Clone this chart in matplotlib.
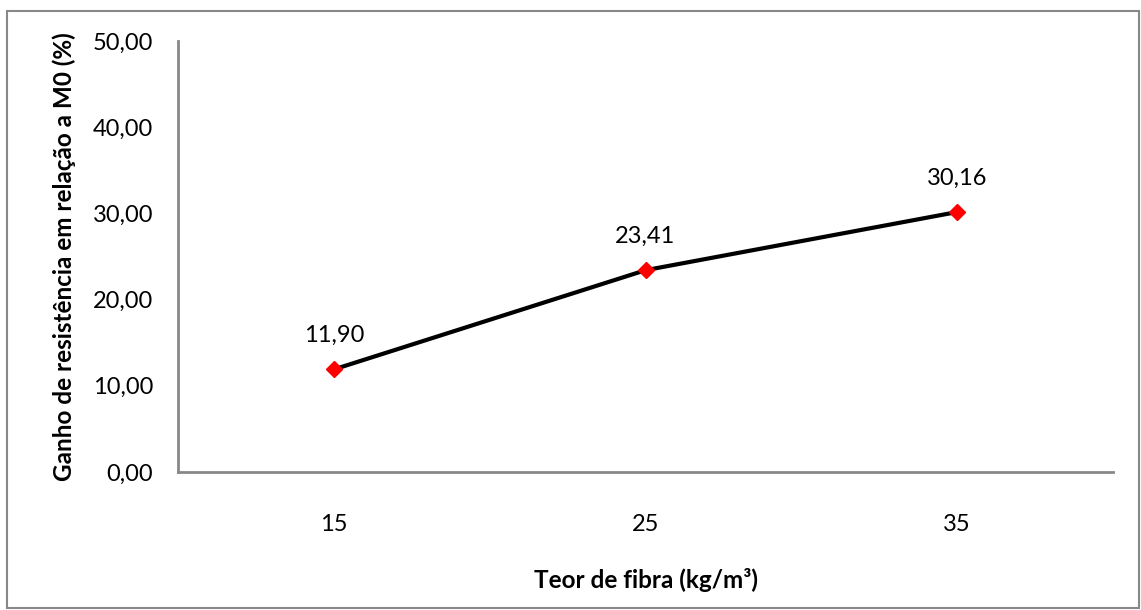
import matplotlib.pyplot as plt
from matplotlib.patches import Rectangle

# data
teor = ['15', '25', '35']
ganho = [11.90, 23.41, 30.16]
yticks = [0, 10, 20, 30, 40, 50]

plt.rcParams['font.family'] = ['Lato', 'DejaVu Sans']

W, H = 1141, 610
fig = plt.figure(figsize=(W / 100, H / 100), dpi=100)

# axes box in pixel coords: left 178, right 1113, top 41, bottom 472
ax = fig.add_axes([178 / W, 1 - 472 / H, (1113 - 178) / W, (472 - 41) / H])

x = range(len(teor))
ax.plot(x, ganho, color='black', linewidth=3, zorder=2)
ax.plot(x, ganho, linestyle='none', marker='D', markersize=8,
        color='red', zorder=3)
for xi, v in zip(x, ganho):
    ax.annotate(f'{v:.2f}'.replace('.', ','), (xi, v), textcoords='offset points',
                xytext=(0, 17), ha='center', va='bottom', fontsize=17)

ax.set_xlim(-0.5, 2.5)
ax.set_ylim(0, 50)
ax.set_xticks(list(x))
ax.set_xticklabels(teor, fontsize=17)
ax.set_yticks(yticks)
ax.set_yticklabels([f'{t:.2f}'.replace('.', ',') for t in yticks], fontsize=17)
ax.tick_params(length=0)
ax.tick_params(axis='y', pad=18)
ax.tick_params(axis='x', pad=30)

for s in ['top', 'right']:
    ax.spines[s].set_visible(False)
for s in ['left', 'bottom']:
    ax.spines[s].set_color('#888888')
    ax.spines[s].set_linewidth(2)

ax.set_xlabel('Teor de fibra (kg/m³)', fontsize=17.5, fontweight='bold', labelpad=24)
ax.set_ylabel('Ganho de resistência em relação a M0 (%)', fontsize=17.5,
              fontweight='bold', labelpad=12)

# outer chart border
fig.patches.append(Rectangle((7 / W, 1 - 608 / H), (1139 - 7) / W, (608 - 11) / H,
                             transform=fig.transFigure, fill=False,
                             edgecolor='#888888', linewidth=1.5))

fig.savefig('out.png', dpi=100)
